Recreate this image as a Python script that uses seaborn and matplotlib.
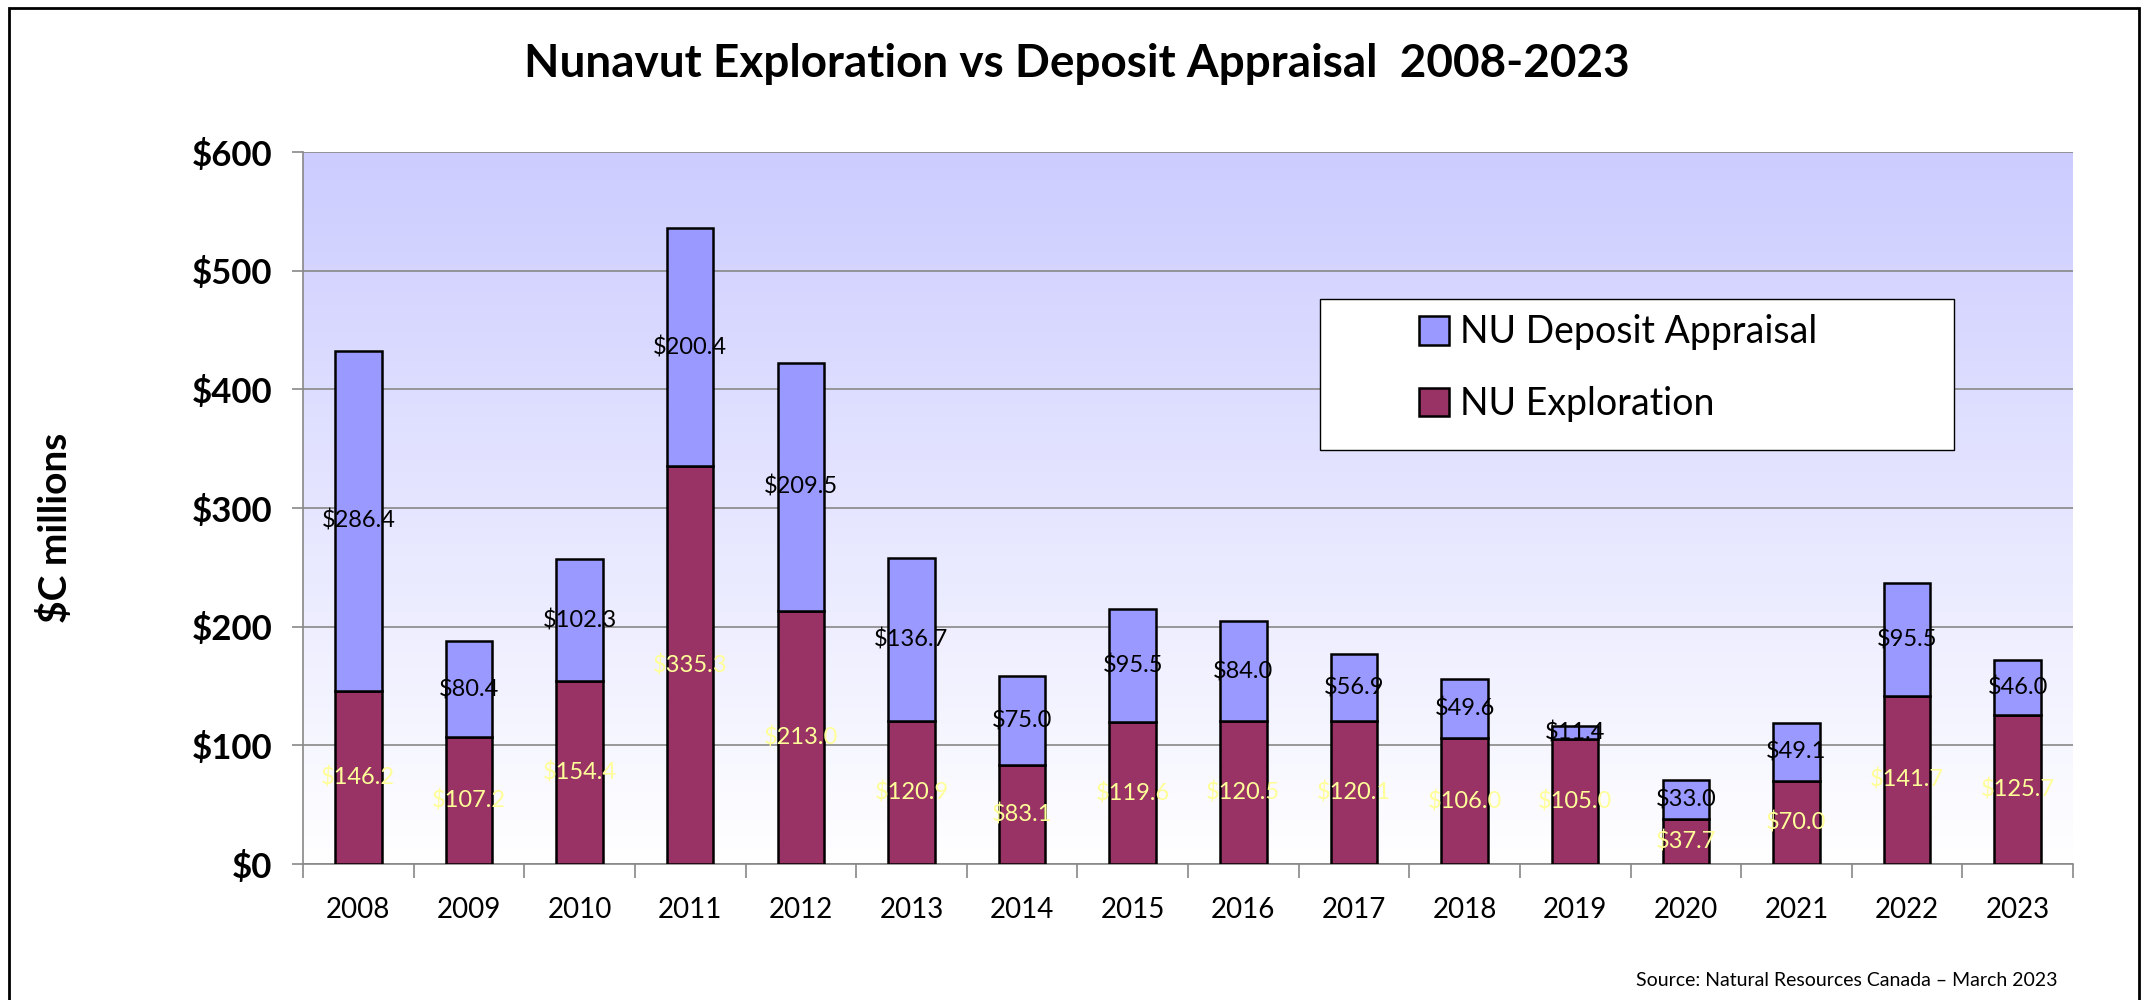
import numpy as np
import pandas as pd
import matplotlib.pyplot as plt
import matplotlib.patches as mpatches
from matplotlib.colors import LinearSegmentedColormap
import seaborn as sns

years = ["2008", "2009", "2010", "2011", "2012", "2013", "2014", "2015",
         "2016", "2017", "2018", "2019", "2020", "2021", "2022", "2023"]
exploration = [146.2, 107.2, 154.4, 335.3, 213.0, 120.9, 83.1, 119.6,
               120.5, 120.1, 106.0, 105.0, 37.7, 70.0, 141.7, 125.7]
appraisal = [286.4, 80.4, 102.3, 200.4, 209.5, 136.7, 75.0, 95.5,
             84.0, 56.9, 49.6, 11.4, 33.0, 49.1, 95.5, 46.0]
yticks = [0, 100, 200, 300, 400, 500, 600]
ytick_labels = ["$0", "$100", "$200", "$300", "$400", "$500", "$600"]

sns.set_theme(style="white")
plt.rcParams["font.family"] = ["Lato", "DejaVu Sans"]
plt.rcParams["text.parse_math"] = False
plt.rcParams["text.color"] = "black"
plt.rcParams["xtick.labelcolor"] = "black"
plt.rcParams["ytick.labelcolor"] = "black"

df = pd.DataFrame({"year": years, "exploration": exploration, "appraisal": appraisal})

fig = plt.figure(figsize=(21.5, 10), dpi=100)
ax = fig.add_axes([303 / 2150, 1 - 864 / 1000, 1770 / 2150, 712 / 1000])

# gradient background of the plot area
grad = np.linspace(0, 1, 256).reshape(-1, 1)
bg = LinearSegmentedColormap.from_list("bg", ["#CCCCFF", "#FFFFFF"])
ax.imshow(grad, cmap=bg, aspect="auto", extent=(0, 1, 0, 1),
          transform=ax.transAxes, zorder=0)

sns.barplot(data=df, x="year", y="exploration", color="#993366", saturation=1,
            width=0.42, edgecolor="black", linewidth=1.8, zorder=3, ax=ax)
sns.barplot(data=df, x="year", y="appraisal", bottom=df["exploration"],
            color="#9999FF", saturation=1, width=0.42, edgecolor="black",
            linewidth=1.8, zorder=3, ax=ax)

ax.bar_label(ax.containers[0], labels=[f"${v:.1f}" for v in exploration],
             label_type="center", color="#FFFF99", fontsize=17, zorder=4)
ax.bar_label(ax.containers[1], labels=[f"${v:.1f}" for v in appraisal],
             label_type="center", color="black", fontsize=17, zorder=4)

ax.set_xlim(-0.5, len(years) - 0.5)
ax.set_ylim(0, 600)
ax.set_yticks(yticks)
ax.set_yticklabels(ytick_labels, fontsize=25, fontweight="bold")
ax.set_xticks(range(len(years)))
ax.set_xticklabels(years, fontsize=20)
ax.set_xticks(np.arange(-0.5, len(years)), minor=True)
ax.tick_params(axis="y", left=True, length=8, color="#888888", width=1.2, pad=14)
ax.tick_params(axis="x", which="major", length=0, pad=24)
ax.tick_params(axis="x", which="minor", bottom=True, length=10, color="#888888", width=1.2)
ax.set_xlabel("")
ax.set_ylabel("")
ax.set_axisbelow(True)
ax.yaxis.grid(True, color="#888888", linewidth=1.2, zorder=1)
ax.xaxis.grid(False)
for s in ["top", "right"]:
    ax.spines[s].set_visible(False)
for s in ["left", "bottom"]:
    ax.spines[s].set_color("#888888")
    ax.spines[s].set_linewidth(1.2)

# legend box and entries
ax.add_patch(mpatches.Rectangle((0.5746, 0.5815), 0.358, 0.212, transform=ax.transAxes,
                                facecolor="white", edgecolor="black", linewidth=1, zorder=5))
handles = [mpatches.Patch(facecolor="#9999FF", edgecolor="black", linewidth=1.8),
           mpatches.Patch(facecolor="#993366", edgecolor="black", linewidth=1.8)]
leg = ax.legend(handles, ["NU Deposit Appraisal", "NU Exploration"], loc="upper left",
                bbox_to_anchor=(0.6305, 0.772), frameon=False, fontsize=27,
                handlelength=0.8, handleheight=0.8, handletextpad=0.3,
                labelspacing=0.95, borderpad=0, borderaxespad=0)
leg.set_zorder(6)

fig.text(0.501, 0.936, "Nunavut Exploration vs Deposit Appraisal  2008-2023",
         ha="center", va="center", fontsize=33, fontweight="bold")
fig.text(55 / 2150, 1 - 528 / 1000, "$C millions", rotation=90, ha="center",
         va="center", fontsize=28, fontweight="bold")
fig.text(2057 / 2150, 0.02, "Source: Natural Resources Canada \u2013 March 2023",
         ha="right", va="center", fontsize=14)

fig.patches.append(mpatches.Rectangle((9 / 2150, -0.1), 2130 / 2150, 1.092,
                                      transform=fig.transFigure, fill=False,
                                      edgecolor="black", linewidth=2))

fig.savefig("out.png", dpi=100)
